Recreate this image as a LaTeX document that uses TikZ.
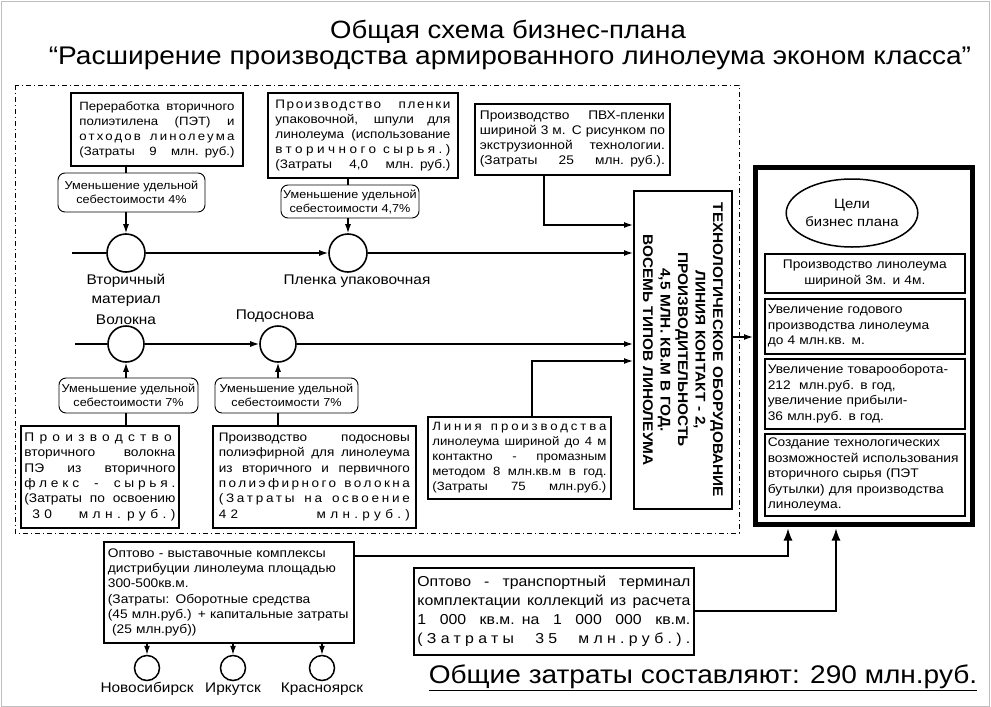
\documentclass[tikz,border=0pt]{standalone}
\usepackage{fontspec}
\setmainfont[FakeStretch=1.1]{Liberation Sans}
\usetikzlibrary{arrows.meta,shapes.geometric,positioning}
\newcommand{\jline}[1]{\makebox[\hsize][s]{\spaceskip=\fontdimen2\font plus 1fil\relax #1}}
\newcommand{\lsp}[2]{{\addfontfeature{LetterSpace=#1}#2}}
\newcommand{\fsz}[2]{\fontsize{#1}{#2}\selectfont}
\begin{document}
\begin{tikzpicture}[x=1pt,y=-1pt,
  box/.style={draw,line width=1.8pt,inner sep=4pt,anchor=north west,align=left,font=\fsz{12}{15}},
  goal/.style={draw,line width=1.6pt,inner sep=3pt,anchor=north west,align=left,text width=194,font=\fsz{12.5}{15.5}},
  oval/.style={draw,line width=0.9pt,rounded corners=7pt,inner sep=2pt,align=center,font=\fsz{11.5}{14}},
  ring/.style={draw,circle,line width=1.6pt,minimum size=38,inner sep=0pt},
  city/.style={draw,circle,line width=1.5pt,minimum size=25,inner sep=0pt},
  lbl/.style={inner sep=1pt,align=center,font=\fsz{14}{19}},
  conn/.style={line width=1.3pt},
  arr/.style={conn,-{Latex[length=9pt,width=6pt]}},
  arrbig/.style={conn,-{Latex[length=12pt,width=9pt]},shorten >=2pt}]
\useasboundingbox (0,0) rectangle (991,707);
\draw[gray!50,line width=1pt] (1,1) rectangle (989,706);
% titles
\node[font=\fsz{25}{30}] (t1) at (508,32) {Общая схема бизнес-плана};
\node[font=\fsz{25.5}{30}] (t2) at (510,58) {“Расширение производства армированного линолеума эконом класса”};
\draw[line width=0.9pt,dash pattern=on 5pt off 3pt on 1pt off 3pt] (15,85) rectangle (739,533);
% upper row
\node[box,inner xsep=8.5pt,text width=155,minimum height=73] (A) at (70,92) {%
\jline{Переработка вторичного}\\
\jline{полиэтилена (ПЭТ) и}\\
\jline{\lsp{18}{отходов линолеума}}\\
\jline{(Затраты 9 млн. руб.)}};
\node[box,inner xsep=7.5pt,text width=175,minimum height=85,font=\fsz{12.3}{15}] (B) at (267,92) {%
\jline{\lsp{13}{Производство пленки}}\\
\jline{упаковочной, шпули для}\\
\jline{линолеума (использование}\\
\jline{\lsp{28}{вторичного сырья.)}}\\
\jline{(Затраты 4,0 млн. руб.)}};
\node[box,inner xsep=5pt,text width=185,minimum height=71,font=\fsz{12.5}{15}] (C) at (474,103) {%
\jline{Производство ПВХ-пленки}\\
\jline{шириной 3 м. С рисунком по}\\
\jline{экструзионной технологии.}\\
\jline{(Затраты 25 млн. руб.).}};
\node[oval,minimum width=147,minimum height=39] (o1) at (131.5,192.5) {Уменьшение удельной\\себестоимости 4\%};
\node[oval,minimum width=138,minimum height=33] (o2) at (350,201.5) {Уменьшение удельной\\себестоимости 4,7\%};
\node[ring] (c1) at (126,253) {};
\node[ring] (c2) at (348,253) {};
\node[lbl,below=0pt of c1] (c1l) {Вторичный\\материал};
\node[lbl,below=1pt of c2,xshift=9pt] (c2l) {Пленка упаковочная};
% technology box
\node[draw,line width=1.8pt,anchor=north west,minimum width=98,minimum height=318,inner sep=0pt] (T) at (633,190) {};
\node[rotate=-90,align=center,text width=310,inner sep=0pt,font=\bfseries\fsz{14}{17.5}] (Tt) at (T.center) {ТЕХНОЛОГИЧЕСКОЕ ОБОРУДОВАНИЕ\\ЛИНИЯ КОНТАКТ - 2,\\ПРОИЗВОДИТЕЛЬНОСТЬ\\4,5 МЛН. КВ.М В ГОД.\\ВОСЕМЬ ТИПОВ ЛИНОЛЕУМА};
% lower row
\node[ring,minimum size=36] (c3) at (126,344) {};
\node[ring,minimum size=36] (c4) at (278,344) {};
\node[lbl,above=-1pt of c3] (c3l) {Волокна};
\node[lbl,above=2pt of c4,xshift=-3pt] (c4l) {Подоснова};
\node[oval,minimum width=139,minimum height=35] (o3) at (128.5,395.5) {Уменьшение удельной\\себестоимости 7\%};
\node[oval,minimum width=143,minimum height=35] (o4) at (286.5,395.5) {Уменьшение удельной\\себестоимости 7\%};
\node[box,inner xsep=3.5pt,text width=151,minimum height=102,font=\fsz{12.5}{15.3}] (D) at (20,425) {%
\jline{\lsp{42}{Производство}}\\
\jline{вторичного волокна}\\
\jline{ПЭ из вторичного}\\
\jline{\lsp{30}{флекс - сырья.}}\\
\jline{(Затраты по освоению}\\
\jline{\hspace{8pt}\lsp{35}{30 млн. руб.)}}};
\node[box,inner xsep=6pt,text width=191,minimum height=102,font=\fsz{12.3}{15.3}] (E) at (212,425) {%
\jline{Производство подосновы}\\
\jline{полиэфирной для линолеума}\\
\jline{из вторичного и первичного}\\
\jline{\lsp{20}{полиэфирного волокна}}\\
\jline{\lsp{22}{(Затраты на освоение}}\\
\jline{\lsp{35}{42 млн.руб.)}}};
\node[box,inner xsep=4.5pt,text width=174,minimum height=82] (F) at (427,416) {%
\jline{\lsp{24}{Линия производства}}\\
\jline{линолеума шириной до 4 м}\\
\jline{контактно - промазным}\\
\jline{методом 8 млн.кв.м в год.}\\
\jline{(Затраты 75 млн.руб.)}};
% goals
\node[draw,line width=4.5pt,anchor=north west,minimum width=217,minimum height=357,inner sep=0pt] (R) at (753,165) {};
\node[draw,ellipse,line width=1.5pt,minimum width=100,minimum height=68,inner sep=0pt,align=center,font=\fsz{13.5}{18}] (goals) at (852,213) {Цели\\бизнес плана};
\node[goal,minimum height=39,align=center] (g1) at (764,253) {Производство линолеума\\шириной 3м. и 4м.};
\node[goal,minimum height=55] (g2) at (764,298) {Увеличение годового\\производства линолеума\\до 4 млн.кв. м.};
\node[goal,minimum height=70] (g3) at (764,358) {Увеличение товарооборота-\\212\ \ млн.руб. в год,\\увеличение прибыли-\\36 млн.руб. в год.};
\node[goal,minimum height=82] (g4) at (764,433) {Создание технологических\\возможностей использования\\вторичного сырья (ПЭТ\\бутылки) для производства\\линолеума.};
% sales
\node[box,text width=242,minimum height=101,font=\fsz{12.5}{15.3}] (G) at (103,541) {%
Оптово - выставочные комплексы\\
дистрибуции линолеума площадью\\
300-500кв.м.\\
(Затраты: Оборотные средства\\
(45 млн.руб.) + капитальные затраты\\
\ (25 млн.руб))};
\node[box,inner xsep=3.5pt,text width=273,minimum height=87,font=\fsz{14.4}{19}] (H) at (413,567) {%
\jline{Оптово - транспортный терминал}\\
\jline{комплектации коллекций из расчета}\\
\jline{1 000 кв.м. на 1 000 000 кв.м.}\\
\jline{\lsp{30}{(Затраты 35 млн.руб.).}}};
\node[city] (k1) at (147,668) {};
\node[city] (k2) at (233,668) {};
\node[city] (k3) at (322,668) {};
\node[lbl,below=0pt of k1] (k1l) {Новосибирск};
\node[lbl,below=0pt of k2] (k2l) {Иркутск};
\node[lbl,below=0pt of k3] (k3l) {Красноярск};
\node[font=\fsz{25.5}{30}] (tot) at (703,678) {\underline{Общие затраты составляют: 290 млн.руб.}};
% connectors
\coordinate (r1) at (72,253);
\coordinate (r2) at (75,344);
\coordinate (pC) at (544,225);
\coordinate (pF) at (532,361);
\coordinate (pT) at (742,337);
\coordinate (pG) at (788,556);
\coordinate (pH) at (836,611);
\draw[conn] (r1) -- (c1);
\draw[arr] (c1) -- (c2);
\draw[arr] (c2) -- (c2 -| T.west);
\draw[conn] (A.south -| c1) -- (o1.north -| c1);
\draw[arr] (o1.south -| c1) -- (c1.north);
\draw[conn] (B.south -| c2) -- (o2.north -| c2);
\draw[arr] (o2.south -| c2) -- (c2.north);
\draw[arr] (C.south -| pC) -- (pC) -- (pC -| T.west);
\draw[conn] (r2) -- (c3);
\draw[arr] (c3) -- (c4);
\draw[arr] (c4) -- (c4 -| T.west);
\draw[conn] (D.north -| c3) -- (o3.south -| c3);
\draw[arr] (o3.north -| c3) -- (c3.south);
\draw[conn] (E.north -| c4) -- (o4.south -| c4);
\draw[arr] (o4.north -| c4) -- (c4.south);
\draw[arr] (F.north -| pF) -- (pF) -- (pF -| T.west);
\draw[arr] (pT -| T.east) -- (pT -| R.west);
\draw[arrbig] (G.east |- pG) -- (pG) -- (pG |- R.south);
\draw[arrbig] (H.east |- pH) -- (pH) -- (pH |- R.south);
\draw[arr] (G.south -| k1) -- (k1.north);
\draw[arr] (G.south -| k2) -- (k2.north);
\draw[arr] (G.south -| k3) -- (k3.north);
\end{tikzpicture}
\end{document}
